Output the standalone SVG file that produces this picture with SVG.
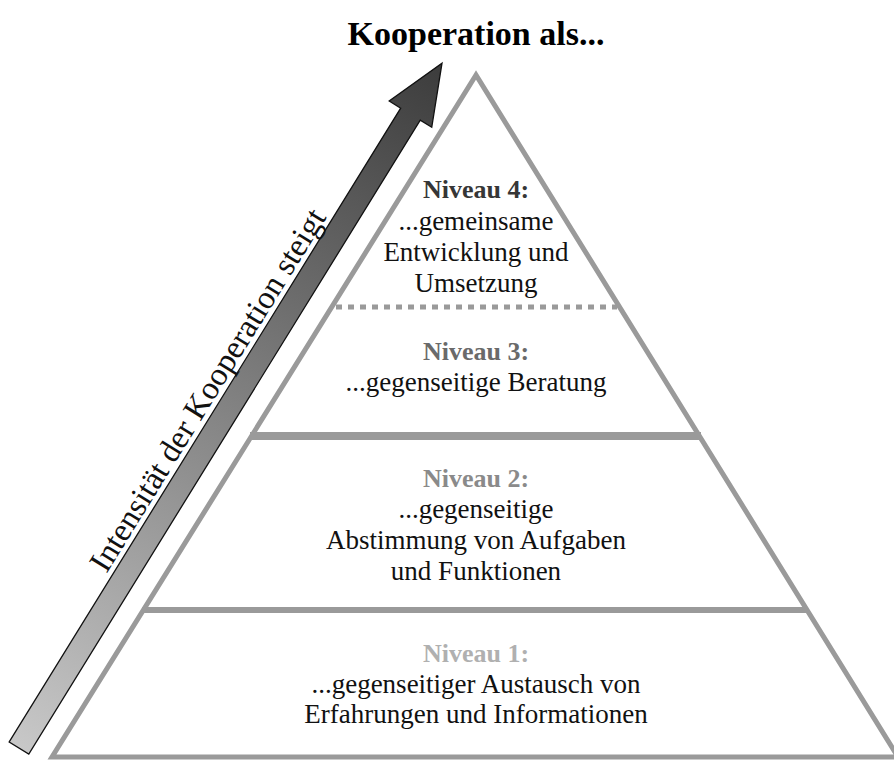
<svg xmlns="http://www.w3.org/2000/svg" width="894" height="760" viewBox="0 0 894 760">
  <style>
    text { font-family: "Liberation Serif", "Times New Roman", serif; text-anchor: middle; }
    .title { font-size: 34px; font-weight: bold; fill: #000; }
    .head { font-size: 26px; font-weight: bold; }
    .body { font-size: 27px; fill: #111; }
    .edge { fill: none; stroke: #9a9a9a; }
    .axis { font-size: 32.5px; fill: #111; text-anchor: start; }
  </style>
  <defs>
    <linearGradient id="arrowGrad" gradientUnits="userSpaceOnUse" x1="0" y1="0" x2="805" y2="0">
      <stop offset="0" stop-color="#c8c8c8"/>
      <stop offset="1" stop-color="#3c3c3c"/>
    </linearGradient>
  </defs>
  <rect width="894" height="760" fill="#fff"/>

  <text class="title" x="476" y="45">Kooperation als...</text>

  <g id="pyramid">
    <polygon class="edge" points="476,75 52,757 898,757" stroke-width="5" stroke-linejoin="miter"/>
  </g>

  <g id="niveau4">
    <text class="head" x="476" y="198" fill="#363636">Niveau 4:</text>
    <text class="body" x="476" y="230">...gemeinsame</text>
    <text class="body" x="476" y="261">Entwicklung und</text>
    <text class="body" x="476" y="292">Umsetzung</text>
  </g>

  <g id="niveau3">
    <line class="edge" x1="336" y1="307" x2="617" y2="307" stroke-width="5" stroke-dasharray="6 6"/>
    <text class="head" x="476" y="360" fill="#6a6a6a">Niveau 3:</text>
    <text class="body" x="476" y="391">...gegenseitige Beratung</text>
  </g>

  <g id="niveau2">
    <line class="edge" x1="250" y1="436" x2="701" y2="436" stroke-width="8"/>
    <text class="head" x="476" y="487" fill="#8a8a8a">Niveau 2:</text>
    <text class="body" x="476" y="518">...gegenseitige</text>
    <text class="body" x="476" y="549">Abstimmung von Aufgaben</text>
    <text class="body" x="476" y="580">und Funktionen</text>
  </g>

  <g id="niveau1">
    <line class="edge" x1="142" y1="610" x2="808" y2="610" stroke-width="6"/>
    <text class="head" x="476" y="662" fill="#b0b0b0">Niveau 1:</text>
    <text class="body" x="476" y="693">...gegenseitiger Austausch von</text>
    <text class="body" x="476" y="723">Erfahrungen und Informationen</text>
  </g>

  <g id="connectors">
    <g id="arrow" transform="translate(19,748) rotate(-58.3)">
      <polygon points="0,-11.5 745,-11.5 745,-25 805,0 745,25 745,11.5 0,11.5" fill="url(#arrowGrad)" stroke="#111" stroke-width="1.3" stroke-linejoin="miter"/>
      <text class="axis" x="194" y="-17">Intensität der Kooperation steigt</text>
    </g>
  </g>
</svg>
